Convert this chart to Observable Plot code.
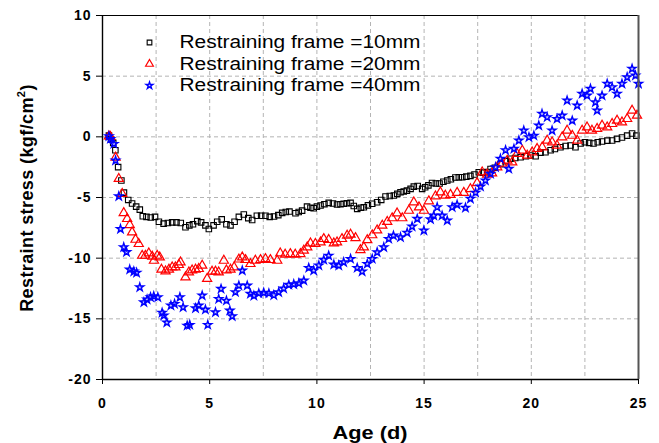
<!DOCTYPE html>
<html>
<head>
<meta charset="utf-8">
<script src="https://cdn.jsdelivr.net/npm/d3@7"></script>
<script src="https://cdn.jsdelivr.net/npm/@observablehq/plot@0.6"></script>
<style>
  html, body { margin: 0; padding: 0; background: #fff; }
  #chart { width: 659px; height: 443px; }
</style>
</head>
<body>
<div id="chart"></div>
<script>
// Series: [age (d), restraint stress (kgf/cm2)]
const frame10mm = [[0.3,0.1],[0.4,-0.2],[0.5,-0.5],[0.6,-1.1],[0.73,-2.5],[0.88,-3.6],[1.0,-4.6],[1.2,-5.2],[1.38,-5.5],[1.57,-5.75],[1.74,-6.0],[1.88,-6.55],[2.05,-6.6],[2.25,-6.65],[2.45,-6.6],[2.63,-7.0],[2.85,-7.15],[3.05,-7.1],[3.25,-7.05],[3.45,-7.05],[3.65,-7.1],[3.87,-7.45],[4.05,-7.3],[4.22,-7.2],[4.42,-6.95],[4.6,-7.05],[4.8,-7.3],[4.96,-7.6],[5.18,-7.3],[5.35,-7.0],[5.56,-6.8],[5.78,-7.2],[5.97,-7.3],[6.16,-7.0],[6.36,-6.6],[6.59,-6.4],[6.8,-6.7],[6.98,-6.85],[7.2,-6.5],[7.4,-6.5],[7.6,-6.5],[7.8,-6.6],[8.0,-6.57],[8.2,-6.45],[8.38,-6.27],[8.55,-6.2],[8.72,-6.16],[9.0,-6.3],[9.15,-6.2],[9.31,-6.08],[9.54,-5.75],[9.7,-5.85],[9.85,-5.88],[10.0,-5.75],[10.17,-5.66],[10.35,-5.55],[10.55,-5.44],[10.75,-5.5],[10.94,-5.58],[11.1,-5.55],[11.25,-5.52],[11.4,-5.48],[11.57,-5.44],[11.72,-5.7],[11.88,-5.94],[12.05,-5.85],[12.19,-5.8],[12.38,-5.65],[12.58,-5.52],[12.81,-5.39],[13.0,-5.2],[13.2,-4.92],[13.4,-4.88],[13.59,-4.84],[13.75,-4.7],[13.9,-4.57],[14.05,-4.5],[14.2,-4.43],[14.37,-4.29],[14.52,-4.1],[14.7,-4.05],[14.91,-4.29],[15.05,-4.15],[15.2,-4.0],[15.37,-3.8],[15.55,-3.85],[15.72,-3.85],[15.9,-3.7],[16.08,-3.6],[16.25,-3.5],[16.46,-3.35],[16.62,-3.33],[16.78,-3.33],[16.97,-3.28],[17.16,-3.22],[17.35,-3.1],[17.55,-2.92],[17.75,-2.95],[17.94,-2.9],[18.1,-2.65],[18.3,-2.55],[18.56,-2.25],[18.8,-2.0],[19.03,-1.8],[19.25,-1.75],[19.5,-1.68],[19.75,-1.6],[19.96,-1.54],[20.2,-1.6],[20.43,-1.3],[20.66,-1.27],[20.9,-1.1],[21.1,-1.0],[21.36,-0.86],[21.6,-0.75],[21.83,-0.72],[22.06,-0.86],[22.3,-0.55],[22.5,-0.45],[22.7,-0.5],[22.9,-0.55],[23.1,-0.45],[23.3,-0.39],[23.55,-0.31],[23.77,-0.3],[24.0,-0.17],[24.23,-0.05],[24.47,0.1],[24.7,0.28],[24.9,0.1]];

const frame20mm = [[0.3,0.05],[0.37,0],[0.61,-1.7],[0.76,-3.46],[0.92,-4.7],[0.99,-6.27],[1.15,-6.76],[1.27,-7.26],[1.38,-7.86],[1.54,-8.47],[1.69,-8.82],[1.85,-9.79],[2.0,-9.79],[2.16,-9.6],[2.32,-9.87],[2.4,-10.2],[2.55,-9.79],[2.67,-9.93],[2.75,-10.94],[2.94,-11.08],[3.1,-10.94],[3.25,-10.75],[3.4,-10.75],[3.56,-10.55],[3.64,-10.34],[3.87,-11.57],[4.03,-11.16],[4.18,-11.0],[4.34,-10.94],[4.49,-10.88],[4.65,-10.61],[4.88,-11.7],[5.11,-11.1],[5.27,-11.1],[5.42,-11.16],[5.66,-10.2],[5.78,-11.0],[5.97,-10.94],[6.14,-10.75],[6.36,-10.1],[6.52,-9.93],[6.67,-10.14],[6.9,-10.47],[7.13,-10.2],[7.37,-10.14],[7.6,-10.06],[7.83,-10.14],[8.15,-10.2],[8.29,-9.6],[8.52,-9.7],[8.76,-9.65],[8.99,-9.7],[9.23,-9.65],[9.39,-9.37],[9.55,-9.1],[9.7,-8.77],[9.93,-8.82],[10.17,-8.69],[10.32,-8.41],[10.55,-8.49],[10.79,-8.77],[10.94,-8.69],[11.17,-8.41],[11.41,-8.14],[11.57,-8.05],[11.8,-8.33],[12.03,-9.32],[12.19,-9.1],[12.35,-8.5],[12.58,-8.1],[12.81,-7.7],[13.05,-7.31],[13.28,-7.0],[13.51,-6.7],[13.74,-6.3],[13.98,-6.7],[14.29,-6.08],[14.52,-5.39],[14.76,-5.8],[14.99,-6.08],[15.22,-5.3],[15.53,-4.9],[15.76,-4.57],[15.99,-4.84],[16.23,-4.77],[16.54,-4.6],[16.85,-4.6],[17.16,-4.3],[17.47,-3.8],[17.71,-2.92],[17.94,-3.1],[18.17,-3.0],[18.41,-2.5],[18.64,-2.2],[18.88,-1.95],[19.11,-2.09],[19.34,-1.4],[19.58,-1.13],[19.81,-1.54],[20.04,-1.27],[20.27,-0.99],[20.51,-0.86],[20.74,-0.3],[20.97,-0.45],[21.2,-0.72],[21.44,-0.03],[21.67,0.52],[21.91,0.1],[22.14,-0.3],[22.37,0.52],[22.6,0.79],[22.83,0.52],[23.07,0.66],[23.3,0.93],[23.54,0.79],[23.77,1.07],[24.0,1.34],[24.23,1.2],[24.47,1.48],[24.7,2.17],[24.93,1.76]];

const frame40mm = [[0.3,0.05],[0.37,-0.17],[0.53,-0.58],[0.61,-1.95],[0.76,-4.9],[0.84,-7.6],[0.99,-9.1],[1.12,-9.5],[1.27,-10.94],[1.46,-11.1],[1.59,-11.2],[1.74,-12.4],[1.93,-13.64],[2.08,-13.41],[2.24,-13.22],[2.39,-13.14],[2.58,-13.22],[2.78,-14.5],[2.86,-14.73],[3.0,-15.3],[3.19,-13.9],[3.36,-13.77],[3.61,-13.22],[3.76,-14.05],[3.95,-15.56],[4.07,-15.5],[4.34,-14.13],[4.49,-13.9],[4.65,-13.08],[4.8,-14.24],[4.91,-15.5],[5.27,-14.46],[5.42,-13.36],[5.53,-12.53],[5.78,-13.5],[5.94,-14.32],[6.05,-14.79],[6.2,-12.8],[6.36,-12.26],[6.52,-11.02],[6.75,-12.26],[6.9,-12.94],[7.06,-13.1],[7.29,-12.9],[7.52,-12.85],[7.76,-12.9],[7.99,-13.05],[8.22,-12.81],[8.45,-12.5],[8.69,-12.2],[8.92,-12.15],[9.16,-12.07],[9.39,-11.85],[9.62,-10.8],[9.85,-11.02],[10.09,-10.6],[10.32,-10.14],[10.55,-9.79],[10.79,-10.53],[11.02,-10.61],[11.25,-10.34],[11.57,-10.06],[11.88,-10.8],[12.11,-11.1],[12.35,-10.47],[12.58,-10.06],[12.81,-9.51],[13.12,-9.1],[13.35,-8.41],[13.57,-8.14],[13.9,-8.28],[14.21,-7.9],[14.44,-7.39],[14.68,-6.76],[14.99,-7.72],[15.3,-6.8],[15.45,-6.49],[15.61,-5.8],[15.84,-6.49],[16.08,-6.9],[16.31,-5.8],[16.54,-5.6],[16.93,-5.85],[17.16,-5.1],[17.4,-4.6],[17.63,-4.1],[17.86,-3.6],[18.1,-3.05],[18.33,-2.5],[18.56,-1.81],[18.8,-1.1],[18.95,-2.64],[19.19,-0.99],[19.42,-0.3],[19.65,0.52],[19.89,-0.03],[20.12,0.1],[20.35,0.93],[20.5,1.9],[20.74,1.62],[20.97,0.52],[21.2,1.48],[21.44,1.76],[21.67,2.99],[21.91,1.34],[22.14,2.58],[22.37,3.55],[22.6,3.4],[22.76,3.96],[22.99,2.85],[23.07,2.17],[23.3,3.4],[23.54,4.37],[23.77,4.09],[24.0,3.55],[24.23,4.37],[24.47,4.91],[24.7,5.61],[24.86,5.05],[25.0,4.37]];

const legendLabels = ["Restraining frame =10mm", "Restraining frame =20mm", "Restraining frame =40mm"];
const xTicks = [0, 5, 10, 15, 20, 25];
const yTicks = [10, 5, 0, -5, -10, -15, -20];
const xGrid = [2.5, 5, 7.5, 10, 12.5, 15, 17.5, 20, 22.5];
const yGrid = [5, 0, -5, -10, -15];
const xTitle = "Age (d)";
const yTitle = "Restraint stress (kgf/cm";

const gridStyle = {stroke: "#b4b4b4", strokeWidth: 1, strokeDasharray: "4,3"};
const styles = [
  {symbol: "square", r: 3.1, stroke: "#000000", fill: "none", strokeWidth: 1.1},
  {symbol: "triangle", r: 3.4, stroke: "#ff0000", fill: "none", strokeWidth: 1.2},
  {symbol: "star", r: 2.5, stroke: "#0000ff", fill: "rgba(0,0,255,0.2)", strokeWidth: 1.4}
];
const series = [frame10mm, frame20mm, frame40mm];

const legendMarks = [];
legendLabels.forEach((lab, i) => {
  legendMarks.push(Plot.dot([lab], {frameAnchor: "top-left", dx: 47, dy: 27 + i * 21.5, ...styles[i], r: styles[i].r * 0.85}));
  legendMarks.push(Plot.text([lab], {frameAnchor: "top-left", dx: 77, dy: 27 + i * 21.5, text: d => d, textAnchor: "start", lineAnchor: "middle", fontSize: 17.5, fontWeight: "normal", fill: "#000"}));
});

const plot = Plot.plot({
  width: 659,
  height: 443,
  marginLeft: 102,
  marginRight: 21,
  marginTop: 15,
  marginBottom: 64,
  style: {fontFamily: "'Liberation Sans', Arial, sans-serif", color: "#000", background: "#fff"},
  x: {domain: [0, 25]},
  y: {domain: [-20, 10]},
  marks: [
    Plot.ruleX(xGrid, gridStyle),
    Plot.ruleY(yGrid, gridStyle),
    Plot.axisX(xTicks, {tickSize: 5, tickPadding: 14, fontSize: 14, fontWeight: "bold", tickFormat: d => String(d), label: null, stroke: "#000"}),
    Plot.axisY(yTicks, {tickSize: 6, tickPadding: 5, fontSize: 14, fontWeight: "bold", tickFormat: d => String(d), label: null, stroke: "#000"}),
    ...series.map((s, i) => Plot.dot(s, {x: d => d[0], y: d => d[1], ...styles[i]})),
    Plot.ruleX([0], {stroke: "#000", strokeWidth: 1.4}),
    Plot.ruleY([-20], {stroke: "#000", strokeWidth: 1.4}),
    Plot.ruleY([10], {stroke: "#000", strokeWidth: 1}),
    Plot.ruleX([25], {stroke: "#555", strokeWidth: 2}),
    ...legendMarks
  ]
});

document.getElementById("chart").appendChild(plot);

const svg = d3.select(plot);
svg.selectAll("text").filter(function () { return this.textContent.startsWith("Restraining"); })
  .attr("textLength", 241).attr("lengthAdjust", "spacingAndGlyphs");
svg.selectAll("g[aria-label='x-axis tick label'] text, g[aria-label='y-axis tick label'] text")
  .attr("letter-spacing", "1px");

svg.append("text")
  .attr("x", 370).attr("y", 439)
  .attr("text-anchor", "middle")
  .attr("font-size", 17.5).attr("font-weight", "bold")
  .attr("textLength", 75).attr("lengthAdjust", "spacingAndGlyphs")
  .attr("fill", "#000")
  .text(xTitle);

const yt = svg.append("text")
  .attr("transform", "translate(33,198) rotate(-90)")
  .attr("text-anchor", "middle")
  .attr("font-size", 18).attr("font-weight", "bold")
  .attr("letter-spacing", "0.4px")
  .attr("fill", "#000");
yt.append("tspan").text(yTitle);
yt.append("tspan").attr("font-size", 11).attr("dy", -8).text("2");
yt.append("tspan").attr("dy", 8).text(")");
</script>
</body>
</html>
